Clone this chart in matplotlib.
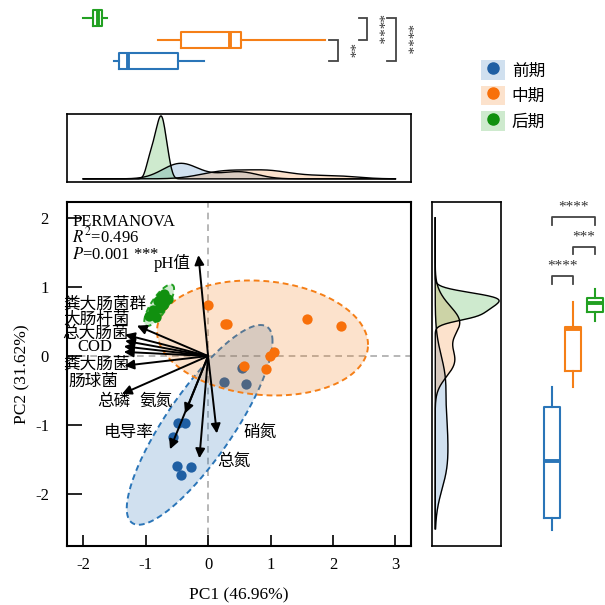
import numpy as np
import matplotlib
matplotlib.use("Agg")
import matplotlib.pyplot as plt
from matplotlib.patches import Patch
from matplotlib.lines import Line2D

plt.rcParams['font.family'] = ['Liberation Serif', 'Noto Sans CJK SC', 'DejaVu Sans']
plt.rcParams['mathtext.fontset'] = 'stix'
plt.rcParams['axes.unicode_minus'] = False

# ---------------- data ----------------
GROUPS = ['前期', '中期', '后期']
POINT_COLORS = ['#1f5fa3', '#f8700a', '#11900f']
BOX_COLORS = ['#2a75b8', '#f57f17', '#22a022']

PC1_EARLY = [0.54, 0.26, 0.60, -0.48, -0.37, -0.56, -0.50, -0.27, -0.44]
PC2_EARLY = [-0.18, -0.37, -0.40, -0.97, -0.97, -1.17, -1.59, -1.60, -1.72]
PC1_MID = [0.005, 0.27, 0.31, 1.59, 2.13, 1.06, 0.99, 0.57, 0.92]
PC2_MID = [0.74, 0.47, 0.46, 0.53, 0.43, 0.06, 0.00, -0.145, -0.19]
PC1_LATE = [-0.95, -0.88, -0.84, -0.80, -0.77, -0.75, -0.72, -0.70, -0.64]
PC2_LATE = [0.58, 0.66, 0.56, 0.80, 0.70, 0.86, 0.74, 0.90, 0.82]

VAR_PC1 = [-0.155, -1.14, -1.33, -1.33, -1.35, -1.35, -1.34, -1.38, -0.37, -0.61, -0.14, 0.14]
VAR_PC2 = [1.46, 0.44, 0.31, 0.22, 0.14, 0.06, -0.14, -0.55, -0.83, -1.35, -1.48, -1.12]
LABEL_NAMES = ['pH值', '粪大肠菌群', '大肠杆菌', '总大肠菌', 'COD', '粪大肠菌',
               '肠球菌', '总磷', '氨氮', '电导率', '硝氮', '总氮']
LABEL_X = [-0.58, -1.66, -1.78, -1.81, -1.82, -1.78, -1.83, -1.51, -0.84, -1.27, 0.84, 0.41]
LABEL_Y = [1.35, 0.745, 0.53, 0.32, 0.13, -0.12, -0.375, -0.67, -0.67, -1.11, -1.11, -1.54]

# boxplot summaries: whislo, q1, median, q3, whishi
TOP_BOX_STATS = [[-1.51, -1.42, -1.29, -0.48, -0.06],
                 [-0.80, -0.43, 0.35, 0.53, 1.88],
                 [-2.01, -1.84, -1.76, -1.70, -1.62]]
RIGHT_BOX_STATS = [[-2.52, -2.35, -1.52, -0.74, -0.455],
                   [-0.454, -0.217, 0.387, 0.416, 0.778],
                   [0.512, 0.635, 0.763, 0.845, 0.971]]
# significance: (group a, group b, label)
TOP_SIG = [(1, 2, '**'), (2, 3, '****'), (1, 3, '****')]
TOP_SIG_LEVEL = [2.08, 2.55, 3.01]
RIGHT_SIG = [(1, 3, '****'), (2, 3, '***'), (1, 2, '****')]
RIGHT_SIG_LEVEL = [2.01, 1.58, 1.16]

PC1_ALL = [PC1_EARLY, PC1_MID, PC1_LATE]
PC2_ALL = [PC2_EARLY, PC2_MID, PC2_LATE]

XLIM = (-2.26, 3.25)
YLIM = (-2.75, 2.23)
XTICKS = [-2, -1, 0, 1, 2, 3]
YTICKS = [-2, -1, 0, 1, 2]


def bw_nrd0(x):
    x = np.asarray(x)
    sd = np.std(x, ddof=1)
    iqr = np.subtract(*np.percentile(x, [75, 25]))
    lo = min(sd, iqr / 1.34) if iqr > 0 else sd
    return 0.9 * lo * len(x) ** -0.2


def kde(x, grid):
    x = np.asarray(x)
    h = bw_nrd0(x)
    z = (grid[:, None] - x[None, :]) / h
    return np.exp(-0.5 * z ** 2).sum(1) / (len(x) * h * np.sqrt(2 * np.pi))


def ellipse(x, y, level=0.90, n=240):
    x = np.asarray(x); y = np.asarray(y)
    cov = np.cov(x, y)
    d2 = len(x) - 1
    F = (d2 / 2) * ((1 - level) ** (-2 / d2) - 1)
    r = np.sqrt(2 * F)
    L = np.linalg.cholesky(cov)
    t = np.linspace(0, 2 * np.pi, n)
    circ = np.vstack([np.cos(t), np.sin(t)])
    pts = np.array([x.mean(), y.mean()])[:, None] + r * (L @ circ)
    return pts[0], pts[1]


W = 605.0
fig = plt.figure(figsize=(6.05, 6.05), dpi=100)

ax = fig.add_axes([67 / W, 59 / W, 344 / W, 344 / W])
ax_top = fig.add_axes([67 / W, (605 - 182) / W, 344 / W, 68 / W])
ax_tb = fig.add_axes([67 / W, (605 - 80) / W, 344 / W, 80 / W])
ax_r = fig.add_axes([432 / W, 59 / W, 69 / W, 344 / W])
ax_rb = fig.add_axes([530 / W, 59 / W, 75 / W, 344 / W])

# ---------------- main panel ----------------
ax.axhline(0, color='#aaaaaa', ls=(0, (4, 3)), lw=1.2, zorder=0)
ax.axvline(0, color='#aaaaaa', ls=(0, (4, 3)), lw=1.2, zorder=0)
for i in range(3):
    ex, ey = ellipse(PC1_ALL[i], PC2_ALL[i])
    ax.fill(ex, ey, color=BOX_COLORS[i], alpha=0.22, lw=0, zorder=1 + 2 * i)
    ax.plot(ex, ey, color=BOX_COLORS[i], ls=(0, (3, 2)), lw=1.4, zorder=1 + 2 * i)
    ax.scatter(PC1_ALL[i], PC2_ALL[i], s=55, color=POINT_COLORS[i], lw=0, zorder=2 + 2 * i)

for vx, vy in zip(VAR_PC1, VAR_PC2):
    ax.annotate('', xy=(vx, vy), xytext=(0, 0),
                arrowprops=dict(arrowstyle='-|>', color='black', lw=1.4,
                                mutation_scale=14, shrinkA=0, shrinkB=0),
                zorder=10)
for name, lx, ly in zip(LABEL_NAMES, LABEL_X, LABEL_Y):
    ax.text(lx, ly, name, ha='center', va='center', fontsize=12, zorder=11)

ax.text(0.015, 0.930, 'PERMANOVA', transform=ax.transAxes, ha='left', va='baseline', fontsize=12)
ax.text(0.015, 0.882, r'$R^2$=0.496', transform=ax.transAxes, ha='left', va='baseline', fontsize=12)
ax.text(0.015, 0.835, r'$P$=0.001 ***', transform=ax.transAxes, ha='left', va='baseline', fontsize=12)

ax.set_xlim(*XLIM)
ax.set_ylim(*YLIM)
ax.set_xticks(XTICKS)
ax.set_yticks(YTICKS)
ax.tick_params(axis='x', direction='in', length=8, width=1.2, pad=8, labelsize=12)
ax.tick_params(axis='y', direction='in', length=11, width=1.2, pad=13, labelsize=12)
ax.set_xticklabels([str(t) for t in XTICKS])
ax.set_yticklabels([str(t) for t in YTICKS])
ax.set_xlabel('PC1 (46.96%)', fontsize=12.5, labelpad=10)
ax.set_ylabel('PC2 (31.62%)', fontsize=12.5, labelpad=3)
for s in ax.spines.values():
    s.set_linewidth(1.5)

# ---------------- top density ----------------
gx = np.linspace(-2, 3, 500)
dens = [kde(v, gx) for v in PC1_ALL]
m = max(d.max() for d in dens)
for i, d in enumerate(dens):
    ax_top.fill_between(gx, 0, d, color=BOX_COLORS[i], alpha=0.22, lw=0)
    ax_top.plot(gx, d, color='black', lw=1.0)
ax_top.set_xlim(*XLIM)
ax_top.set_ylim(-0.05 * m, 1.03 * m)
ax_top.set_xticks([]); ax_top.set_yticks([])
for s in ax_top.spines.values():
    s.set_linewidth(1.2)

# ---------------- right density ----------------
gy = np.linspace(-2.5, 2, 500)
densy = [kde(v, gy) for v in PC2_ALL]
my = max(d.max() for d in densy)
for i, d in enumerate(densy):
    ax_r.fill_betweenx(gy, 0, d, color=BOX_COLORS[i], alpha=0.22, lw=0)
    ax_r.plot(d, gy, color='black', lw=1.0)
ax_r.set_ylim(*YLIM)
ax_r.set_xlim(-0.05 * my, 1.03 * my)
ax_r.set_xticks([]); ax_r.set_yticks([])
for s in ax_r.spines.values():
    s.set_linewidth(1.2)


def make_stats(rows):
    out = []
    for lo, q1, med, q3, hi in rows:
        out.append(dict(whislo=lo, q1=q1, med=med, q3=q3, whishi=hi, fliers=[]))
    return out


def draw_box(axx, stats, horizontal):
    for i, st in enumerate(stats):
        c = BOX_COLORS[i]
        kw = dict(positions=[i + 1], widths=0.75, showcaps=False, showfliers=False,
                  boxprops=dict(color=c, lw=1.5),
                  whiskerprops=dict(color=c, lw=1.5),
                  medianprops=dict(color=c, lw=2.8))
        try:
            axx.bxp([st], orientation='horizontal' if horizontal else 'vertical', **kw)
        except TypeError:
            axx.bxp([st], vert=not horizontal, **kw)


# ---------------- top boxplot ----------------
draw_box(ax_tb, make_stats(TOP_BOX_STATS), True)
ax_tb.set_xlim(*XLIM)
ax_tb.set_ylim(0.11, 3.85)
ax_tb.axis('off')
for (a, b, lab), lev in zip(TOP_SIG, TOP_SIG_LEVEL):
    ax_tb.plot([lev - 0.14, lev, lev, lev - 0.14], [a, a, b, b], color='#444444', lw=1.3,
               solid_joinstyle='miter')
    ax_tb.text(lev + 0.16, (a + b) / 2, lab, rotation=270, ha='center', va='center',
               fontsize=11, color='#333333')

# ---------------- right boxplot ----------------
draw_box(ax_rb, make_stats(RIGHT_BOX_STATS), False)
ax_rb.set_ylim(*YLIM)
ax_rb.set_xlim(-0.02, 3.47)
ax_rb.axis('off')
for (a, b, lab), lev in zip(RIGHT_SIG, RIGHT_SIG_LEVEL):
    ax_rb.plot([a, a, b, b], [lev - 0.11, lev, lev, lev - 0.11], color='#444444', lw=1.3)
    ax_rb.text((a + b) / 2, lev + 0.05, lab, ha='center', va='bottom',
               fontsize=11, color='#333333')

# ---------------- legend ----------------
handles = [(Patch(facecolor=BOX_COLORS[i], alpha=0.22, edgecolor='none'),
            Line2D([], [], marker='o', ls='none', color=POINT_COLORS[i], markersize=8))
           for i in range(3)]
fig.legend(handles, GROUPS, loc='upper left', bbox_to_anchor=(481 / W, 1 - 60 / W),
           frameon=False, fontsize=12, handlelength=1.45, handleheight=1.45,
           labelspacing=0.35, handletextpad=0.4, borderpad=0, borderaxespad=0)

fig.savefig('out.png', dpi=100)
